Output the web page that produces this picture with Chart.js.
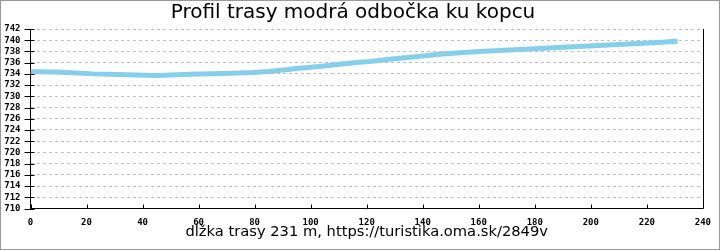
<!DOCTYPE html>
<html>
<head>
<meta charset="utf-8">
<script src="https://cdn.jsdelivr.net/npm/chart.js@4.4.1/dist/chart.umd.min.js"></script>
<style>
  html, body { margin: 0; padding: 0; background: #fff; }
  #wrap { width: 720px; height: 250px; }
</style>
</head>
<body>
<div id="wrap"><canvas id="myChart" width="720" height="250"></canvas></div>
<script>
// route profile: distance along the trail (m) and elevation (m)
const distances = [0, 3.2, 11.0, 22.4, 33.8, 45.2, 57.2, 69.0, 79.3, 85.0, 88.5, 92.1, 95.6, 99.2,
  102.8, 106.3, 110.2, 113.8, 117.3, 120.9, 124.4, 128.0, 131.9, 135.5, 139.0, 142.6, 146.1,
  149.7, 154.3, 160.4, 167.5, 174.6, 181.7, 188.4, 195.6, 202.7, 209.8, 216.9, 224.0, 229.3, 231.0];
const elevations = [734.4, 734.36, 734.27, 734.0, 733.86, 733.72, 733.95, 734.07, 734.25, 734.43,
  734.61, 734.79, 735.02, 735.14, 735.32, 735.5, 735.73, 735.91, 736.09, 736.21, 736.39, 736.62,
  736.8, 736.98, 737.16, 737.33, 737.51, 737.64, 737.81, 737.99, 738.17, 738.35, 738.53, 738.71,
  738.88, 739.06, 739.24, 739.42, 739.6, 739.77, 739.8];

const yMin = 710, yMax = 742, yStep = 2;
const xMin = 0, xMax = 240, xStep = 20;

const titleText = 'Profil trasy modrá odbočka ku kopcu';
const captionText = 'dĺžka trasy 231 m, https://turistika.oma.sk/2849v';

const profileData = distances.map((d, i) => ({x: d, y: elevations[i]}));

// small tick marks that cross into the plot, right frame line and outer border
const frameAndTicks = {
  id: 'frameAndTicks',
  beforeDraw(chart) {
    const c = chart.ctx;
    c.save();
    c.fillStyle = '#fff';
    c.fillRect(0, 0, chart.width, chart.height);
    c.restore();
  },
  afterDraw(chart) {
    const c = chart.ctx;
    const area = chart.chartArea;
    const xs = chart.scales.x, ys = chart.scales.y;
    c.save();
    c.strokeStyle = '#000';
    c.lineWidth = 1;
    c.beginPath();
    const rx = Math.round(area.right) + 0.5;
    c.moveTo(rx, area.top);
    c.lineTo(rx, area.bottom);
    ys.ticks.forEach(t => {
      const py = Math.round(ys.getPixelForValue(t.value)) + 0.5;
      c.moveTo(area.left - 6, py);
      c.lineTo(area.left + 4, py);
    });
    xs.ticks.forEach(t => {
      const px = Math.round(xs.getPixelForValue(t.value)) + 0.5;
      c.moveTo(px, area.bottom - 4);
      c.lineTo(px, area.bottom);
    });
    c.stroke();
    c.strokeStyle = '#999';
    c.strokeRect(0.5, 0.5, chart.width - 1, chart.height - 1);
    c.restore();
  }
};

const ctx = document.getElementById('myChart').getContext('2d');
new Chart(ctx, {
  type: 'line',
  data: {
    datasets: [{
      data: profileData,
      borderColor: '#87CEEB',
      borderWidth: 5,
      pointRadius: 0,
      tension: 0,
      fill: false
    }]
  },
  options: {
    responsive: false,
    animation: false,
    events: [],
    layout: { padding: { left: 0, right: 14, top: 0, bottom: 0 } },
    plugins: {
      legend: { display: false },
      tooltip: { enabled: false },
      title: {
        display: true,
        text: titleText,
        color: '#000',
        font: { family: 'DejaVu Sans', size: 20, weight: 'normal', lineHeight: 1 },
        padding: { top: 3.2, bottom: 5.8 }
      }
    },
    scales: {
      x: {
        type: 'linear',
        min: xMin,
        max: xMax,
        afterFit(scale) { scale.height = 41.5; },
        grid: { display: false, drawTicks: false },
        border: { display: true, color: '#000', width: 1 },
        ticks: {
          stepSize: xStep,
          autoSkip: false,
          color: '#000',
          padding: 9,
          maxRotation: 0,
          font: { family: 'DejaVu Sans Mono', size: 9, weight: 'bold' }
        },
        title: {
          display: true,
          text: captionText,
          color: '#000',
          font: { family: 'DejaVu Sans', size: 14.7 },
          padding: { top: 0, bottom: 9.4 }
        }
      },
      y: {
        min: yMin,
        max: yMax,
        afterFit(scale) { scale.width = 30.5; },
        grid: { color: '#c0c0c0', drawTicks: false },
        border: { display: true, color: '#000', width: 1, dash: [3, 3] },
        ticks: {
          stepSize: yStep,
          autoSkip: false,
          color: '#000',
          padding: 10,
          font: { family: 'DejaVu Sans Mono', size: 9, weight: 'bold' }
        }
      }
    }
  },
  plugins: [frameAndTicks]
});
</script>
</body>
</html>
